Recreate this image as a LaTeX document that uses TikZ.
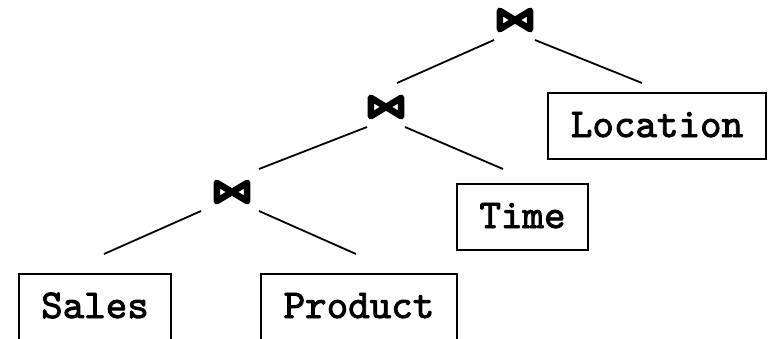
\documentclass[tikz,border=0pt]{standalone}
\usepackage{fontspec}
\newfontfamily\relfont{lmmono10-regular}[Extension=.otf, FakeBold=2.2]
\tikzset{
  rel/.style={draw, line width=1.8pt, inner sep=0pt, minimum height=66pt,
    text height=22pt, text depth=0pt,
    font=\fontsize{41}{46}\selectfont\relfont},
  joinnode/.style={inner sep=0pt, minimum width=30pt, minimum height=18pt},
  bowtie/.style={line width=6.5pt, line join=round},
  edge/.style={line width=1.8pt}
}
\begin{document}
\begin{tikzpicture}[x=1pt,y=-1pt]
\useasboundingbox (0,0) rectangle (769,338);
% join nodes
\node[joinnode] (j1) at (515,20) {};
\node[joinnode] (j2) at (386,107) {};
\node[joinnode] (j3) at (232,192) {};
\foreach \j in {j1,j2,j3}{
  \draw[bowtie] (\j.north west) -- (\j.south east) -- (\j.north east) -- (\j.south west) -- cycle;
}
% relations
\node[rel, minimum width=152pt] (sales) at (95,307) {Sales};
\node[rel, minimum width=196pt] (product) at (359,307) {Product};
\node[rel, minimum width=131pt] (time) at (522.5,217) {Time};
\node[rel, minimum width=218pt] (location) at (657,126) {Location};
% connector ends
\coordinate (j1l) at (494,40);  \coordinate (j2t) at (397,83);
\coordinate (j1r) at (535,40);  \coordinate (loct) at (642,83);
\coordinate (j2l) at (367,127); \coordinate (j3t) at (259,169);
\coordinate (j2r) at (405,127); \coordinate (timet) at (503,169);
\coordinate (j3l) at (201,211); \coordinate (salest) at (104,254);
\coordinate (j3r) at (259,211); \coordinate (prodt) at (356,254);
\draw[edge] (j1l) -- (j2t);
\draw[edge] (j1r) -- (loct);
\draw[edge] (j2l) -- (j3t);
\draw[edge] (j2r) -- (timet);
\draw[edge] (j3l) -- (salest);
\draw[edge] (j3r) -- (prodt);
\end{tikzpicture}
\end{document}
